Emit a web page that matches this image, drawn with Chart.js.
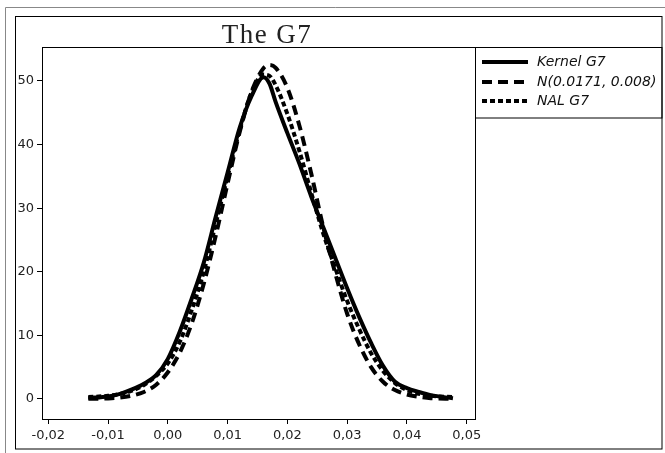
<!DOCTYPE html>
<html>
<head>
<meta charset="utf-8">
<title>The G7</title>
<script src="https://cdn.jsdelivr.net/npm/chart.js@4.4.1/dist/chart.umd.min.js"></script>
<style>
    body { margin: 0; background: #fff; }
    canvas { display: block; }
</style>
</head>
<body>
<canvas id="myChart" width="665" height="453"></canvas>
<script>
// values
const xValues = [-0.0133, -0.010, -0.008, -0.006, -0.004, -0.002, 0.000, 0.002, 0.004, 0.006,
    0.008, 0.010, 0.012, 0.014, 0.016, 0.017, 0.018, 0.020, 0.022, 0.024,
    0.026, 0.028, 0.030, 0.032, 0.034, 0.036, 0.038, 0.040, 0.042, 0.044, 0.0477];

const kernelG7 = [0.15, 0.4, 0.8, 1.5, 2.4, 3.7, 6.3, 10.6, 15.8, 21.4,
    28.6, 35.6, 42.6, 47.6, 50.6, 49.6, 46.8, 41.8, 37.0, 31.8,
    27.0, 22.2, 17.4, 12.9, 8.8, 5.2, 2.7, 1.7, 1.1, 0.6, 0.1];

const normalG7 = [0.02, 0.09, 0.22, 0.52, 1.1, 2.2, 4.2, 7.3, 11.9, 18.1,
    25.6, 33.9, 41.9, 48.3, 52.0, 52.5, 52.1, 48.9, 43.0, 35.4,
    27.0, 19.8, 13.4, 8.6, 5.0, 2.7, 1.4, 0.7, 0.35, 0.12, 0.02];

const nalG7 = [0.3, 0.5, 0.8, 1.3, 2.2, 3.6, 5.6, 9.0, 14.0, 20.0,
    27.5, 35.0, 42.2, 48.2, 51.0, 50.8, 49.4, 44.8, 39.0, 32.4,
    26.0, 20.6, 15.4, 11.0, 7.2, 4.4, 2.5, 1.4, 0.8, 0.5, 0.3];

const seriesNames = ['Kernel G7', 'N(0.0171, 0.008)', 'NAL G7'];
const titleText = 'The G7';
const yTicks = [0, 10, 20, 30, 40, 50];

function toPoints(ys) {
    let pts = [];
    for (let i = 0; i < xValues.length; i++) {
        pts.push({ x: xValues[i], y: ys[i] });
    }
    return pts;
}

// frames, title and boxed legend
const decorations = {
    id: 'decorations',
    beforeDraw(chart) {
        const c = chart.ctx;
        c.save();
        c.fillStyle = '#fff';
        c.fillRect(0, 0, chart.width, chart.height);
        c.strokeStyle = '#888';
        c.lineWidth = 1;
        c.beginPath();
        c.moveTo(5.5, 460);
        c.lineTo(5.5, 7.5);
        c.lineTo(670, 7.5);
        c.stroke();
        c.strokeStyle = '#000';
        c.strokeRect(15.5, 16.5, 646.5, 432.5);
        c.restore();
    },
    afterDraw(chart) {
        const c = chart.ctx;
        const a = chart.chartArea;
        c.save();
        c.strokeStyle = '#000';
        c.lineWidth = 1;
        c.strokeRect(a.left + 0.5, a.top + 0.5, a.right - a.left, a.bottom - a.top);

        // title
        c.fillStyle = '#222';
        c.font = '27px "Liberation Serif"';
        c.letterSpacing = '1.5px';
        c.textAlign = 'center';
        c.textBaseline = 'alphabetic';
        c.fillText(titleText, 267, 43);
        c.letterSpacing = '0px';

        // legend
        const lx = a.right + 0.5;
        const ly = a.top + 0.5;
        c.strokeRect(lx, ly, 186.5, 70.5);
        const rows = [62, 82, 101];
        c.font = 'italic 14px "DejaVu Sans"';
        c.textAlign = 'left';
        c.textBaseline = 'middle';
        chart.data.datasets.forEach((ds, i) => {
            c.beginPath();
            c.setLineDash(ds.borderDash || []);
            c.lineWidth = ds.borderWidth;
            c.strokeStyle = ds.borderColor;
            c.moveTo(482, rows[i]);
            c.lineTo(528, rows[i]);
            c.stroke();
            c.setLineDash([]);
            c.fillStyle = '#111';
            c.fillText(ds.label, 537, rows[i]);
        });
        c.restore();
    }
};

function fmtX(v) {
    if (Math.abs(v) < 1e-9) v = 0;
    return v.toFixed(2).replace('.', ',');
}

const ctx = document.getElementById('myChart').getContext('2d');

const myChart = new Chart(ctx, {
    type: 'line',
    data: {
        datasets: [{
            label: seriesNames[0],
            data: toPoints(kernelG7),
            borderColor: '#000',
            borderWidth: 4,
            pointRadius: 0,
            cubicInterpolationMode: 'monotone'
        }, {
            label: seriesNames[1],
            data: toPoints(normalG7),
            borderColor: '#000',
            borderWidth: 4,
            borderDash: [10, 6],
            pointRadius: 0,
            cubicInterpolationMode: 'monotone'
        }, {
            label: seriesNames[2],
            data: toPoints(nalG7),
            borderColor: '#000',
            borderWidth: 4,
            borderDash: [5, 3],
            pointRadius: 0,
            cubicInterpolationMode: 'monotone'
        }]
    },
    options: {
        responsive: false,
        animation: false,
        layout: {
            padding: { left: 0, top: 47, right: 190, bottom: 0 }
        },
        plugins: {
            legend: { display: false },
            title: { display: false },
            tooltip: { enabled: false }
        },
        scales: {
            x: {
                type: 'linear',
                min: -0.021054,
                max: 0.051386,
                afterFit: function (scale) { scale.height = 34; },
                border: { display: false },
                grid: {
                    drawOnChartArea: false,
                    drawTicks: true,
                    tickLength: 5,
                    color: '#000'
                },
                ticks: {
                    stepSize: 0.01,
                    includeBounds: false,
                    maxRotation: 0,
                    padding: 4,
                    color: '#222',
                    font: { family: 'DejaVu Sans', size: 13 },
                    callback: function (v) { return fmtX(v); }
                }
            },
            y: {
                min: -3.15,
                max: 55.34,
                afterFit: function (scale) { scale.width = 42; },
                afterBuildTicks: function (scale) {
                    scale.ticks = yTicks.map(v => ({ value: v }));
                },
                border: { display: false },
                grid: {
                    drawOnChartArea: false,
                    drawTicks: true,
                    tickLength: 5,
                    color: '#000'
                },
                ticks: {
                    padding: 3,
                    color: '#222',
                    font: { family: 'DejaVu Sans', size: 13 }
                }
            }
        }
    },
    plugins: [decorations]
});
</script>
</body>
</html>
